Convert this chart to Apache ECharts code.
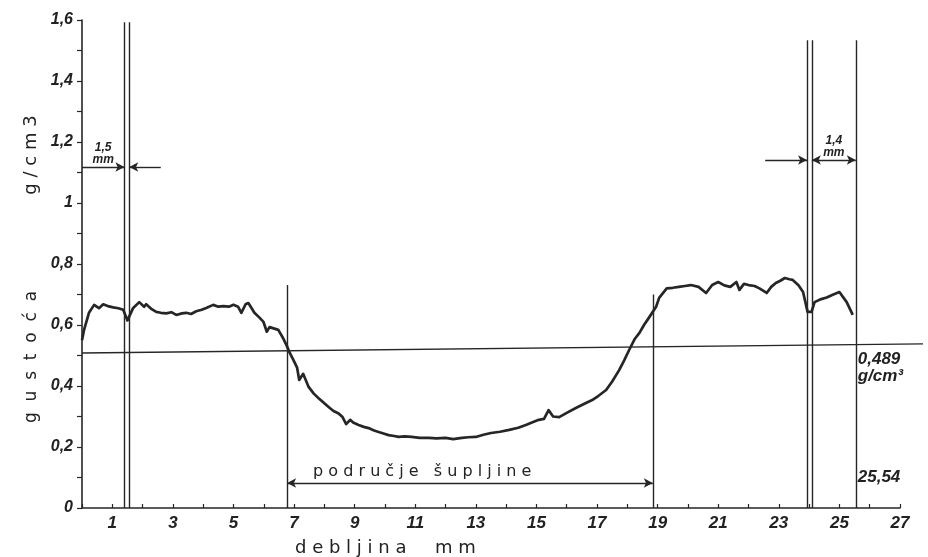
<!DOCTYPE html>
<html><head><meta charset="utf-8">
<script src="https://cdn.jsdelivr.net/npm/echarts@6/dist/echarts.min.js"></script>
<style>html,body{margin:0;padding:0;background:#fff}#c{width:928px;height:557px}</style>
</head><body><div id="c"></div>
<script>
// thickness along the sample (mm)
const thickness = [0.0,0.07,0.23,0.4,0.56,0.7,0.85,1.03,1.2,1.36,1.5,1.69,1.89,2.05,2.12,2.3,2.45,2.6,2.78,2.95,3.11,3.3,3.44,3.6,3.77,3.95,4.1,4.33,4.5,4.66,4.85,5.0,5.15,5.26,5.4,5.49,5.6,5.69,5.85,5.99,6.1,6.19,6.35,6.48,6.62,6.75,6.85,6.98,7.1,7.17,7.3,7.48,7.65,7.81,7.98,8.14,8.3,8.47,8.6,8.72,8.85,8.95,9.13,9.3,9.46,9.62,9.79,9.95,10.12,10.3,10.45,10.65,10.88,11.15,11.45,11.7,12.0,12.25,12.54,12.75,13.0,13.25,13.5,13.8,14.1,14.4,14.65,14.85,15.08,15.25,15.4,15.55,15.75,16.0,16.3,16.55,16.84,17.05,17.3,17.5,17.73,17.9,18.06,18.25,18.4,18.55,18.72,18.95,19.05,19.3,19.5,19.7,19.9,20.1,20.35,20.6,20.8,21.0,21.2,21.4,21.6,21.7,21.85,22.0,22.2,22.36,22.6,22.75,22.9,23.05,23.2,23.35,23.45,23.65,23.8,23.95,24.08,24.18,24.4,24.58,24.8,25.0,25.24,25.44];
// density (g/cm3)
const density = [0.55,0.585,0.64,0.666,0.655,0.668,0.662,0.658,0.655,0.65,0.615,0.656,0.675,0.66,0.668,0.652,0.643,0.64,0.638,0.642,0.633,0.638,0.64,0.636,0.645,0.65,0.656,0.666,0.66,0.662,0.66,0.666,0.66,0.64,0.668,0.672,0.655,0.64,0.625,0.61,0.578,0.593,0.588,0.584,0.56,0.534,0.51,0.485,0.46,0.42,0.44,0.397,0.375,0.36,0.345,0.331,0.318,0.31,0.298,0.275,0.289,0.28,0.272,0.266,0.262,0.255,0.249,0.244,0.239,0.236,0.233,0.235,0.233,0.23,0.23,0.228,0.23,0.226,0.23,0.232,0.233,0.24,0.246,0.25,0.256,0.263,0.272,0.28,0.289,0.292,0.321,0.3,0.298,0.312,0.328,0.34,0.354,0.368,0.387,0.415,0.452,0.485,0.518,0.555,0.574,0.6,0.625,0.66,0.689,0.72,0.722,0.725,0.728,0.731,0.725,0.705,0.731,0.741,0.73,0.725,0.741,0.715,0.735,0.731,0.728,0.72,0.705,0.725,0.738,0.745,0.754,0.75,0.748,0.73,0.708,0.643,0.643,0.675,0.685,0.69,0.7,0.708,0.675,0.633];
// vertical boundary lines (mm) and their upper ends (g/cm3)
const boundaryX = [1.4, 1.56, 6.77, 18.84, 23.93, 24.09, 25.54];
const boundaryTop = [1.593, 1.593, 0.731, 0.70, 1.534, 1.534, 1.534];
// mean density line (drawn slightly slanted in the original, runs past the axis end)
const meanX = [0, 27.76];
const meanY = [0.508, 0.538];
const meanLabel = '0,489';
const densityUnit = 'g/cm³';
const sampleThickness = '25,54';
// dimension annotations
const leftDim = {from: 0, to: 1.4, back: 2.6, backTo: 1.56, y: 1.118, label: '1,5\nmm'};
const rightDim = {from: 22.55, to: 23.93, start2: 24.09, end2: 25.54, y: 1.141, label: '1,4\nmm'};
const cavity = {from: 6.77, to: 18.84, y: 0.082, label: 'p o d r u č j e   š u p l j i n e'};
const yTickLabels = ['0','0,2','0,4','0,6','0,8','1','1,2','1,4','1,6'];

const ink = '#262626';
const hand = {fontFamily: 'Liberation Sans', fontStyle: 'italic', fontWeight: 'bold', color: '#222'};

const chart = echarts.init(document.getElementById('c'), null, {renderer: 'canvas'});

const vLines = boundaryX.map((x, i) => [
  {coord: [x, 0], symbol: 'none'},
  {coord: [x, boundaryTop[i]], symbol: 'none'}
]);

const markData = vLines.concat([
  [{coord: [leftDim.from, leftDim.y], symbol: 'none'},
   {coord: [leftDim.to, leftDim.y], symbol: 'arrow',
    label: {show: true, position: 'middle', formatter: leftDim.label, fontSize: 12, lineHeight: 12, distance: 1, ...hand}}],
  [{coord: [leftDim.back, leftDim.y], symbol: 'none'}, {coord: [leftDim.backTo, leftDim.y], symbol: 'arrow'}],
  [{coord: [rightDim.from, rightDim.y], symbol: 'none'}, {coord: [rightDim.to, rightDim.y], symbol: 'arrow'}],
  [{coord: [rightDim.start2, rightDim.y], symbol: 'arrow'},
   {coord: [rightDim.end2, rightDim.y], symbol: 'arrow',
    label: {show: true, position: 'middle', formatter: rightDim.label, fontSize: 12, lineHeight: 12, distance: 1, ...hand}}],
  [{coord: [cavity.from, cavity.y], symbol: 'arrow'},
   {coord: [cavity.to, cavity.y], symbol: 'arrow',
    label: {show: true, position: 'insideStartTop', formatter: cavity.label, fontSize: 16, fontFamily: 'DejaVu Sans', color: '#222', distance: [26, 3]}}]
]);

chart.setOption({
  animation: false,
  backgroundColor: '#ffffff',
  grid: [
    {left: 82, right: 28, top: 20, bottom: 49},
    {left: 82, right: 5, top: 20, bottom: 49}
  ],
  xAxis: [{
    type: 'value', min: 0, max: 27, interval: 1, gridIndex: 0,
    axisLine: {lineStyle: {color: ink, width: 1.6}},
    axisTick: {inside: true, length: 4, lineStyle: {color: ink, width: 1.2}},
    axisLabel: {formatter: v => (v % 2 === 1 ? String(v) : ''), fontSize: 17, margin: 7, ...hand},
    splitLine: {show: false}
  }, {
    type: 'value', min: 0, max: meanX[1], gridIndex: 1, show: false
  }],
  yAxis: [{
    type: 'value', min: 0, max: 1.6, interval: 0.2, gridIndex: 0,
    axisLine: {show: true, lineStyle: {color: ink, width: 1.6}},
    axisTick: {show: true, length: 5, lineStyle: {color: ink, width: 1.2}},
    minorTick: {show: true, splitNumber: 2, length: 5, lineStyle: {color: ink, width: 1.2}},
    axisLabel: {formatter: (v) => yTickLabels[Math.round(v / 0.2)], fontSize: 16, margin: 9, ...hand},
    splitLine: {show: false}
  }, {
    type: 'value', min: 0, max: 1.6, gridIndex: 1, show: false
  }],
  series: [{
    name: 'gustoća',
    type: 'line',
    xAxisIndex: 0, yAxisIndex: 0,
    data: thickness.map((x, i) => [x, density[i]]),
    symbol: 'none',
    clip: false,
    lineStyle: {color: ink, width: 2.7, join: 'round'},
    markLine: {
      silent: true,
      symbolSize: [7, 9],
      label: {show: false},
      lineStyle: {color: ink, width: 1.4, type: 'solid'},
      emphasis: {disabled: true},
      data: markData
    },
    markPoint: {
      silent: true,
      symbol: 'circle', symbolSize: 0,
      label: {show: true, position: 'right', distance: 2, fontSize: 17, ...hand},
      data: [
        {coord: [25.54, 0.489], value: meanLabel, label: {formatter: meanLabel}},
        {coord: [25.54, 0.433], value: densityUnit, label: {formatter: densityUnit}},
        {coord: [25.54, 0.102], value: sampleThickness, label: {formatter: sampleThickness}}
      ]
    }
  }, {
    name: 'srednja gustoća',
    type: 'line',
    xAxisIndex: 1, yAxisIndex: 1,
    data: meanX.map((x, i) => [x, meanY[i]]),
    symbol: 'none',
    silent: true,
    lineStyle: {color: ink, width: 1.4}
  }],
  graphic: [
    {type: 'text', x: 31, y: 155, rotation: Math.PI / 2,
     style: {text: 'g / c m 3', font: '18px "DejaVu Sans"', fill: '#222', textAlign: 'center', textVerticalAlign: 'middle'}},
    {type: 'text', x: 32, y: 357, rotation: Math.PI / 2,
     style: {text: 'g  u  s  t  o  ć  a', font: '17px "DejaVu Sans"', fill: '#222', textAlign: 'center', textVerticalAlign: 'middle'}},
    {type: 'text', x: 295, y: 548,
     style: {text: 'd e b l j i n a     m m', font: '18px "DejaVu Sans"', fill: '#222', textAlign: 'left', textVerticalAlign: 'middle'}}
  ]
});
</script>
</body></html>
